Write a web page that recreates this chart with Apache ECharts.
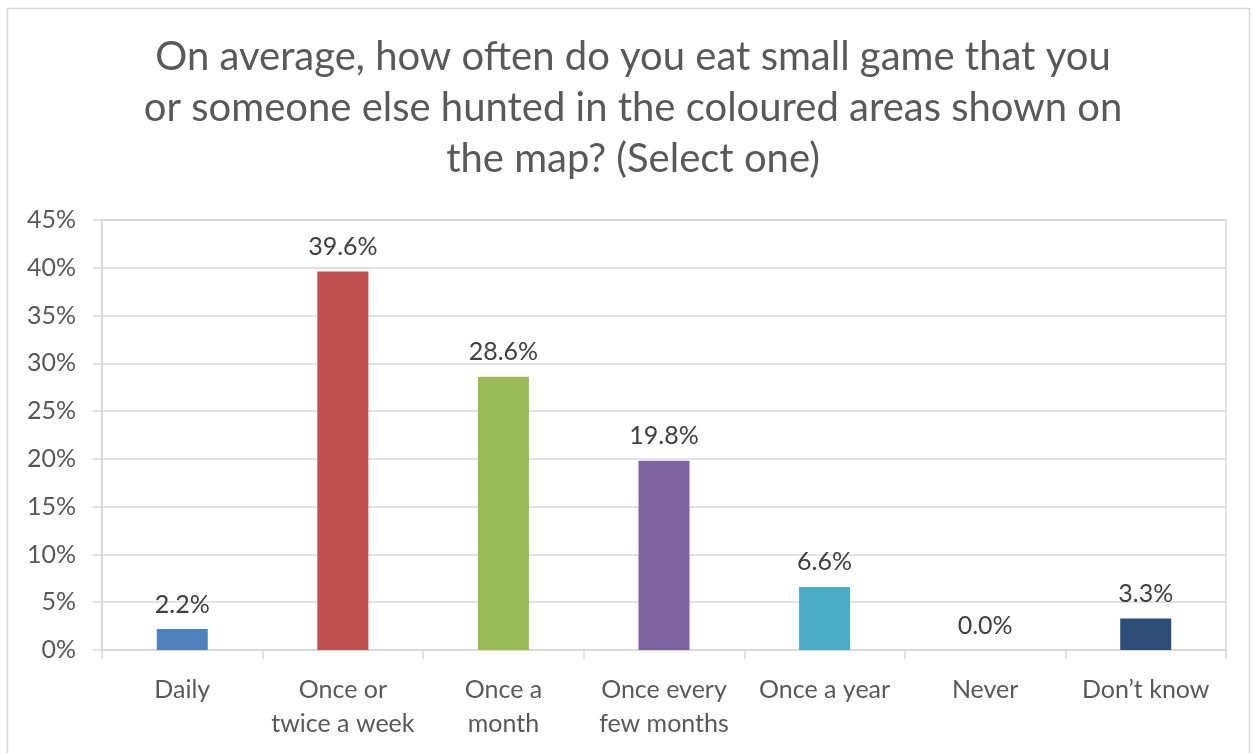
<!DOCTYPE html>
<html>
<head>
<meta charset="utf-8">
<script src="https://cdn.jsdelivr.net/npm/echarts@6/dist/echarts.min.js"></script>
<style>
  html, body { margin: 0; padding: 0; background: #fff; }
  #chart { width: 1252px; height: 753px; }
</style>
</head>
<body>
<div id="chart"></div>
<script>
// Survey answers and shares (percent)
const categories = ['Daily', 'Once or\ntwice a week', 'Once a\nmonth', 'Once every\nfew months', 'Once a year', 'Never', 'Don\u2019t know'];
const shares = [2.2, 39.6, 28.6, 19.8, 6.6, 0.0, 3.3];
const barColors = ['#4F81BD', '#C0504D', '#9BBB59', '#8064A2', '#4BACC6', '#4F81BD', '#2C4D75'];
const yTicks = [0, 5, 10, 15, 20, 25, 30, 35, 40, 45];

const titleText = 'On average, how often do you eat small game that you\nor someone else hunted in the coloured areas shown on\nthe map? (Select one)';
const FONT = 'Lato, "Open Sans", sans-serif';
const TEXT = '#595959';

const chart = echarts.init(document.getElementById('chart'), null, { renderer: 'canvas' });

chart.setOption({
  animation: false,
  backgroundColor: '#ffffff',
  graphic: [{
    type: 'rect',
    shape: { x: 7.5, y: 8.5, width: 1242, height: 760 },
    style: { fill: 'none', stroke: '#d9d9d9', lineWidth: 1.5 },
    silent: true
  }, {
    type: 'text',
    x: 633, y: 32,
    style: {
      text: titleText,
      align: 'center', verticalAlign: 'top',
      font: '40px ' + FONT, fill: TEXT, lineHeight: 51
    },
    silent: true
  }],
  grid: {
    left: 102, right: 26, top: 220, bottom: 103,
    show: true, borderColor: '#d9d9d9', borderWidth: 1.5
  },
  xAxis: {
    type: 'category',
    data: categories,
    axisLine: { show: true, lineStyle: { color: '#d9d9d9', width: 1.5 } },
    axisTick: { show: true, length: 9, alignWithLabel: false, lineStyle: { color: '#d9d9d9', width: 1.5 } },
    axisLabel: { fontFamily: FONT, fontSize: 25, color: TEXT, margin: 23, lineHeight: 34, interval: 0 }
  },
  yAxis: {
    type: 'value',
    min: 0, max: 45, interval: 5,
    axisLine: { show: true, lineStyle: { color: '#d9d9d9', width: 1.5 } },
    axisTick: { show: true, length: 9, lineStyle: { color: '#d9d9d9', width: 1.5 } },
    splitLine: { show: true, lineStyle: { color: '#d9d9d9', width: 1.5 } },
    axisLabel: {
      fontFamily: FONT, fontSize: 25, color: TEXT, margin: 26,
      formatter: v => (yTicks.includes(v) ? v + '%' : '')
    }
  },
  series: [{
    type: 'bar',
    barWidth: 51,
    data: shares.map((v, i) => ({ value: v, itemStyle: { color: barColors[i] } })),
    label: {
      show: true,
      position: 'top',
      distance: 12,
      fontFamily: FONT, fontSize: 25, color: '#404040',
      formatter: p => p.value.toFixed(1) + '%'
    }
  }]
});
</script>
</body>
</html>
